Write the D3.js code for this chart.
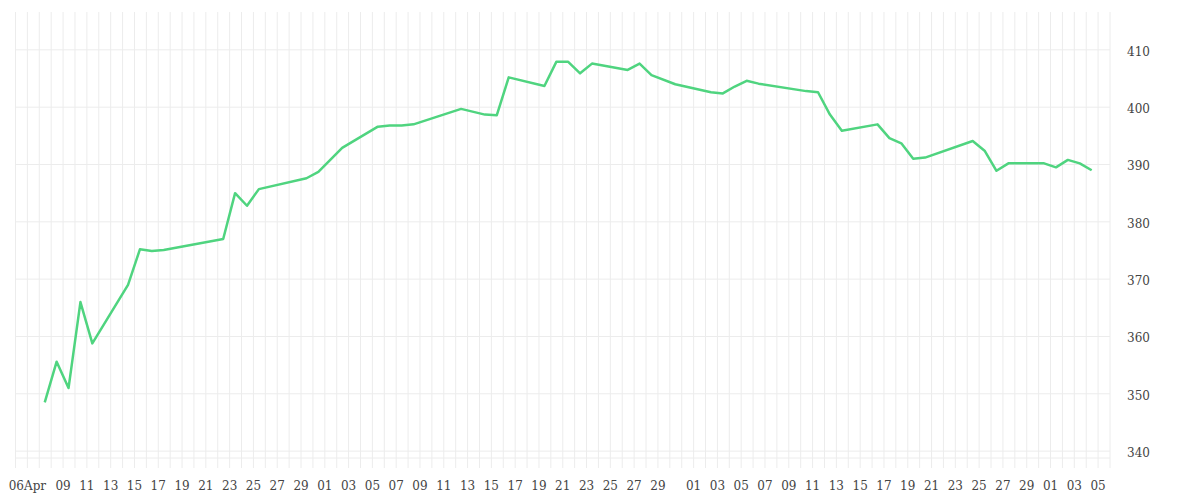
<!DOCTYPE html>
<html><head><meta charset="utf-8">
<script src="https://cdn.jsdelivr.net/npm/d3@7/dist/d3.min.js"></script>
<style>body{margin:0;background:#fff}text{font-family:"DejaVu Serif",serif;font-size:12px;fill:#444}</style>
</head><body><svg id="c" width="1200" height="500"></svg>
<script>
const dates = ["2023-04-07","2023-04-08","2023-04-09","2023-04-10","2023-04-11","2023-04-14","2023-04-15","2023-04-16","2023-04-17","2023-04-22","2023-04-23","2023-04-24","2023-04-25","2023-04-29","2023-04-30","2023-05-02","2023-05-05","2023-05-06","2023-05-07","2023-05-08","2023-05-12","2023-05-14","2023-05-15","2023-05-16","2023-05-19","2023-05-20","2023-05-21","2023-05-22","2023-05-23","2023-05-26","2023-05-27","2023-05-28","2023-05-30","2023-06-02","2023-06-03","2023-06-04","2023-06-05","2023-06-06","2023-06-10","2023-06-11","2023-06-12","2023-06-13","2023-06-16","2023-06-17","2023-06-18","2023-06-19","2023-06-20","2023-06-24","2023-06-25","2023-06-26","2023-06-27","2023-06-30","2023-07-01","2023-07-02","2023-07-03","2023-07-04"];
const values = [348.5,355.6,351.0,366.0,358.8,369.0,375.2,374.9,375.1,377.0,385.0,382.8,385.7,387.6,388.7,392.9,396.6,396.8,396.8,397.0,399.7,398.7,398.6,405.2,403.7,407.9,407.9,405.9,407.6,406.5,407.6,405.6,404.0,402.6,402.4,403.6,404.6,404.1,402.8,402.6,398.7,395.9,397.0,394.6,393.7,391.0,391.2,394.1,392.4,388.9,390.2,390.2,389.5,390.8,390.2,389.0];
const xTickDates = ["2023-04-06","2023-04-09","2023-04-11","2023-04-13","2023-04-15","2023-04-17","2023-04-19","2023-04-21","2023-04-23","2023-04-25","2023-04-27","2023-04-29","2023-05-01","2023-05-03","2023-05-05","2023-05-07","2023-05-09","2023-05-11","2023-05-13","2023-05-15","2023-05-17","2023-05-19","2023-05-21","2023-05-23","2023-05-25","2023-05-27","2023-05-29","2023-06-01","2023-06-03","2023-06-05","2023-06-07","2023-06-09","2023-06-11","2023-06-13","2023-06-15","2023-06-17","2023-06-19","2023-06-21","2023-06-23","2023-06-25","2023-06-27","2023-06-29","2023-07-01","2023-07-03","2023-07-05"];
const xTickLabels = ["06Apr","09","11","13","15","17","19","21","23","25","27","29","01","03","05","07","09","11","13","15","17","19","21","23","25","27","29","01","03","05","07","09","11","13","15","17","19","21","23","25","27","29","01","03","05"];
const yTicks = [340,350,360,370,380,390,400,410];

const parse = d3.timeParse("%Y-%m-%d");
const svg = d3.select("#c");
const L=15.5,R=1110,T=12,B=458;
const x = d3.scaleTime().domain([parse("2023-04-05"),parse("2023-07-06")]).range([L,R]);
const y = d3.scaleLinear().domain([338.8,416.6]).range([B,T]);
const g = svg.append("g");
g.selectAll(".vg").data(d3.timeDay.range(x.domain()[0], d3.timeDay.offset(x.domain()[1],1))).join("line")
 .attr("x1",d=>x(d)).attr("x2",d=>x(d)).attr("y1",T).attr("y2",468).attr("stroke","#ececec");
g.selectAll(".hg").data(yTicks).join("line")
 .attr("x1",L).attr("x2",R).attr("y1",d=>y(d)).attr("y2",d=>y(d)).attr("stroke","#ececec");
g.append("line").attr("x1",L).attr("x2",R).attr("y1",B).attr("y2",B).attr("stroke","#ececec");
g.selectAll(".xl").data(xTickDates).join("text").attr("x",d=>x(parse(d))).attr("y",490)
 .attr("text-anchor","middle").text((d,i)=>xTickLabels[i]);
g.selectAll(".yl").data(yTicks).join("text").attr("x",1127).attr("y",d=>y(d)+6).text(d=>d);
const pts = dates.map((d,i)=>[d3.timeHour.offset(parse(d),11),values[i]]);
svg.append("path").datum(pts).attr("fill","none").attr("stroke","#4fd47f").attr("stroke-width",2.5)
 .attr("stroke-linejoin","round")
 .attr("d",d3.line().x(d=>x(d[0])).y(d=>y(d[1])));
</script></body></html>
